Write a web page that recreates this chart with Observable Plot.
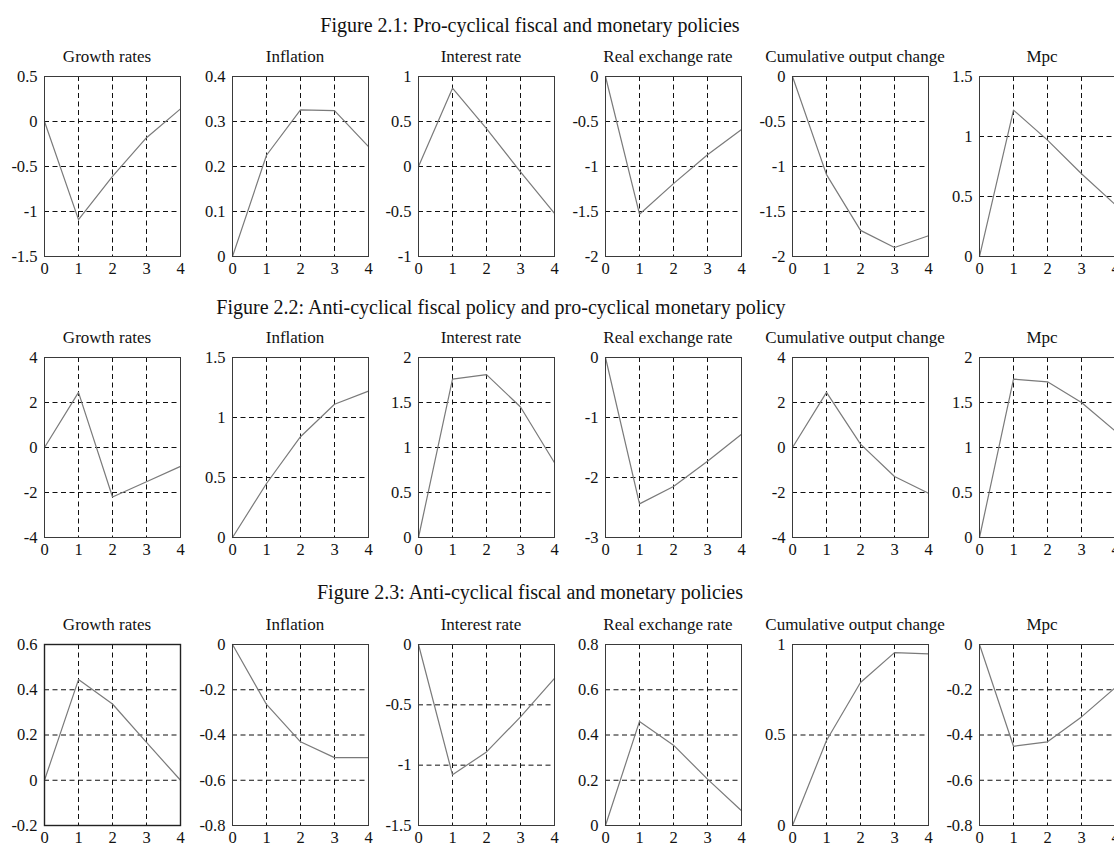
<!DOCTYPE html>
<html>
<head>
<meta charset="utf-8">
<script src="https://cdn.jsdelivr.net/npm/d3@7"></script>
<script src="https://cdn.jsdelivr.net/npm/@observablehq/plot@0.6"></script>
<style>
  html, body { margin: 0; padding: 0; background: #fff; }
  #wrap { position: relative; width: 1114px; height: 843px; overflow: hidden; background: #fff; }
  #wrap > .panel { position: absolute; }
  #wrap > svg.overlay { position: absolute; left: 0; top: 0; }
</style>
</head>
<body>
<div id="wrap"></div>
<script>
// ---------- data ----------
const periods = [0, 1, 2, 3, 4];
const panelTitles = ["Growth rates", "Inflation", "Interest rate", "Real exchange rate", "Cumulative output change", "Mpc"];
const figureTitles = [
  "Figure 2.1: Pro-cyclical fiscal and monetary policies",
  "Figure 2.2: Anti-cyclical fiscal policy and pro-cyclical monetary policy",
  "Figure 2.3: Anti-cyclical fiscal and monetary policies"
];

// Figure 2.1
const f1Growth    = [0, -1.09, -0.61, -0.18, 0.14];
const f1Inflation = [0, 0.225, 0.326, 0.324, 0.244];
const f1Interest  = [0, 0.87, 0.42, -0.06, -0.52];
const f1RealEx    = [0, -1.53, -1.19, -0.87, -0.59];
const f1CumOut    = [0, -1.09, -1.71, -1.9, -1.77];
const f1Mpc       = [0, 1.22, 0.97, 0.69, 0.43];

// Figure 2.2
const f2Growth    = [0, 2.45, -2.2, -1.52, -0.84];
const f2Inflation = [0, 0.45, 0.84, 1.11, 1.22];
const f2Interest  = [0, 1.76, 1.81, 1.45, 0.83];
const f2RealEx    = [0, -2.44, -2.15, -1.73, -1.28];
const f2CumOut    = [0, 2.45, 0.15, -1.29, -2.03];
const f2Mpc       = [0, 1.76, 1.73, 1.5, 1.18];

// Figure 2.3
const f3Growth    = [0, 0.445, 0.337, 0.167, 0];
const f3Inflation = [0, -0.265, -0.43, -0.5, -0.5];
const f3Interest  = [0, -1.08, -0.89, -0.6, -0.28];
const f3RealEx    = [0, 0.46, 0.355, 0.205, 0.065];
const f3CumOut    = [0, 0.47, 0.79, 0.955, 0.948];
const f3Mpc       = [0, -0.45, -0.43, -0.32, -0.19];

// y tick labels
const f1Ticks = [
  [-1.5, -1, -0.5, 0, 0.5],
  [0, 0.1, 0.2, 0.3, 0.4],
  [-1, -0.5, 0, 0.5, 1],
  [-2, -1.5, -1, -0.5, 0],
  [-2, -1.5, -1, -0.5, 0],
  [0, 0.5, 1, 1.5]
];
const f2Ticks = [
  [-4, -2, 0, 2, 4],
  [0, 0.5, 1, 1.5],
  [0, 0.5, 1, 1.5, 2],
  [-3, -2, -1, 0],
  [-4, -2, 0, 2, 4],
  [0, 0.5, 1, 1.5, 2]
];
const f3Ticks = [
  [-0.2, 0, 0.2, 0.4, 0.6],
  [-0.8, -0.6, -0.4, -0.2, 0],
  [-1.5, -1, -0.5, 0],
  [0, 0.2, 0.4, 0.6, 0.8],
  [0, 0.5, 1],
  [-0.8, -0.6, -0.4, -0.2, 0]
];

const figures = [
  {series: [f1Growth, f1Inflation, f1Interest, f1RealEx, f1CumOut, f1Mpc], ticks: f1Ticks},
  {series: [f2Growth, f2Inflation, f2Interest, f2RealEx, f2CumOut, f2Mpc], ticks: f2Ticks},
  {series: [f3Growth, f3Inflation, f3Interest, f3RealEx, f3CumOut, f3Mpc], ticks: f3Ticks}
];

// ---------- layout ----------
const FONT = "'Liberation Serif', 'DejaVu Serif', serif";
const colLeft = [44, 232, 418, 605, 792, 979];
const plotW = 136;
const rowTop = [76, 357, 644];
const plotH = [180, 180, 181];
const figTitleX = [530, 501, 530];
const figTitleY = [32, 314, 599];
const ML = 50, MR = 6, MT = 8, MB = 26;
const TICK_FS = 16.5;
const INK = "#111";

const wrap = document.getElementById("wrap");
const fmt = d => String(d);

figures.forEach((fig, r) => {
  fig.series.forEach((vals, c) => {
    const ticks = fig.ticks[c];
    const data = periods.map((p, i) => ({p, v: vals[i]}));
    const heavy = (r === 2 && c === 0);
    const chart = Plot.plot({
      width: ML + plotW + MR,
      height: MT + plotH[r] + MB,
      marginLeft: ML, marginRight: MR, marginTop: MT, marginBottom: MB,
      style: {fontFamily: FONT, fontSize: TICK_FS + "px", color: INK, background: "transparent", overflow: "visible"},
      x: {domain: [0, 4], axis: null},
      y: {domain: [ticks[0], ticks[ticks.length - 1]], axis: null},
      marks: [
        Plot.ruleX(periods.slice(1, -1), {stroke: "#111", strokeWidth: 1, strokeDasharray: "5,3.5"}),
        Plot.ruleY(ticks.slice(1, -1), {stroke: "#111", strokeWidth: 1, strokeDasharray: "5,3.5"}),
        Plot.line(data, {x: "p", y: "v", stroke: "#7a7a7a", strokeWidth: 1.2}),
        Plot.frame({stroke: heavy ? "#222" : "#3a3a3a", strokeWidth: heavy ? 1.4 : 1}),
        Plot.axisX(periods, {tickSize: 0, tickPadding: 6, tickFormat: fmt, label: null, fontSize: TICK_FS, fill: INK}),
        Plot.axisY(ticks, {tickSize: 0, tickPadding: 7, tickFormat: fmt, label: null, fontSize: TICK_FS, fill: INK})
      ]
    });
    chart.classList.add("panel");
    chart.style.left = (colLeft[c] - ML) + "px";
    chart.style.top = (rowTop[r] - MT) + "px";
    wrap.appendChild(chart);
  });
});

// titles overlay
const svg = d3.select(wrap).append("svg")
  .attr("class", "overlay")
  .attr("width", 1114).attr("height", 843)
  .style("font-family", FONT)
  .style("pointer-events", "none");

figureTitles.forEach((t, r) => {
  svg.append("text")
    .attr("x", figTitleX[r]).attr("y", figTitleY[r])
    .attr("text-anchor", "middle")
    .attr("font-size", 20)
    .attr("fill", INK)
    .text(t);
  panelTitles.forEach((pt, c) => {
    svg.append("text")
      .attr("x", colLeft[c] + plotW / 2 - 5).attr("y", rowTop[r] - 14)
      .attr("text-anchor", "middle")
      .attr("font-size", 17)
      .attr("fill", INK)
      .text(pt);
  });
});
</script>
</body>
</html>
